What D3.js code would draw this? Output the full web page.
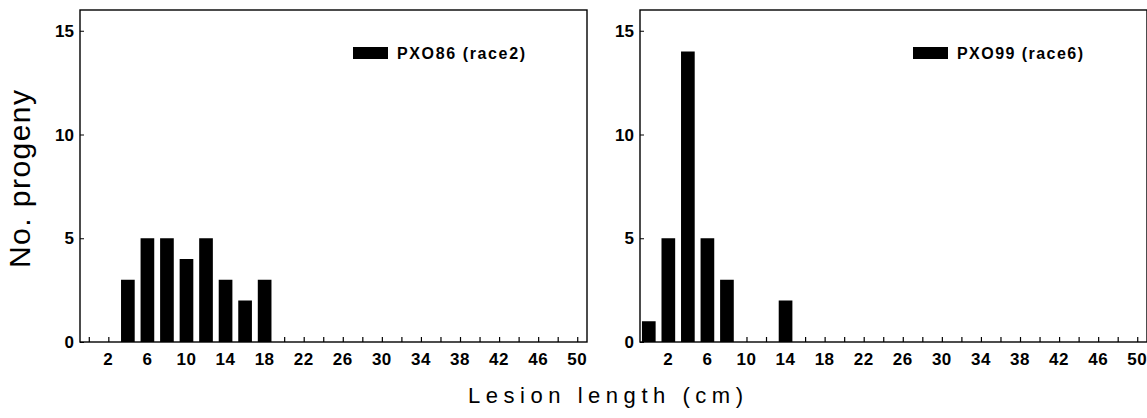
<!DOCTYPE html>
<html>
<head>
<meta charset="utf-8">
<script src="https://cdn.jsdelivr.net/npm/d3@7"></script>
<style>
    body { margin: 0; background: #fff; }
    svg { display: block; font-family: "Liberation Sans", Arial, Helvetica, sans-serif; }
    .tick-label { font-size: 17px; font-weight: bold; fill: #000; }
    .legend-label { font-size: 16px; font-weight: bold; fill: #000; }
    .axis-title { fill: #000; }
</style>
</head>
<body>
<div id="chart-area"></div>
<script>
// Lesion length bins (cm) and number of progeny per bin
const race2Lengths = [4, 6, 8, 10, 12, 14, 16, 18];
const race2Counts = [3, 5, 5, 4, 5, 3, 2, 3];
const race6Lengths = [0, 2, 4, 6, 8, 14];
const race6Counts = [1, 5, 14, 5, 3, 2];

// Axis ticks
const xTickMarks = [0, 2, 4, 6, 8, 10, 12, 14, 16, 18, 20, 22, 24, 26, 28, 30, 32, 34, 36, 38, 40, 42, 44, 46, 48, 50];
const xTickLabels = [2, 6, 10, 14, 18, 22, 26, 30, 34, 38, 42, 46, 50];
const yTickLabels = [0, 5, 10, 15];

const seriesNames = ["PXO86 (race2)", "PXO99 (race6)"];

const width = 1147;
const height = 418;
const plotTop = 10;
const plotBottom = 342;
const panelWidth = 507;
const panelLefts = [80, 640];

const svg = d3.select("#chart-area")
    .append("svg")
    .attr("width", width)
    .attr("height", height);

const y = d3.scaleLinear()
    .domain([0, 16])
    .range([plotBottom, plotTop]);

/**
 * Draw one histogram panel
 */
function drawPanel(left, lengths, counts, name, legendTextLength) {
    const x = d3.scaleLinear()
        .domain([-0.9, 51])
        .range([left, left + panelWidth]);

    const bars = lengths.map((d, i) => ({ length: d, count: counts[i] }));
    const barWidth = x(1.4) - x(0);

    const g = svg.append("g");

    // Bars
    g.selectAll(".bar")
        .data(bars)
        .enter()
        .append("rect")
        .attr("class", "bar")
        .attr("x", d => x(d.length) - barWidth / 2)
        .attr("y", d => y(d.count))
        .attr("width", barWidth)
        .attr("height", d => y(0) - y(d.count))
        .attr("fill", "#000");

    // Frame
    g.append("rect")
        .attr("x", left)
        .attr("y", plotTop)
        .attr("width", panelWidth)
        .attr("height", plotBottom - plotTop)
        .attr("fill", "none")
        .attr("stroke", "#000")
        .attr("stroke-width", 1.4);

    // X axis: small inward ticks at every bin, labels every other one
    const xAxis = g.append("g")
        .attr("transform", `translate(0,${plotBottom})`)
        .call(d3.axisTop(x).tickValues(xTickMarks).tickSize(5).tickFormat(""));
    xAxis.select(".domain").remove();
    xAxis.selectAll("line").attr("stroke", "#000").attr("stroke-width", 1.2);

    g.selectAll(".x-label")
        .data(xTickLabels)
        .enter()
        .append("text")
        .attr("class", "tick-label")
        .attr("x", d => x(d))
        .attr("y", plotBottom + 23)
        .attr("text-anchor", "middle")
        .attr("letter-spacing", "0.5px")
        .text(d => d);

    // Y axis
    const yAxis = g.append("g")
        .attr("transform", `translate(${left},0)`)
        .call(d3.axisRight(y).tickValues(yTickLabels).tickSize(4).tickFormat(""));
    yAxis.select(".domain").remove();
    yAxis.selectAll("line").attr("stroke", "#000").attr("stroke-width", 1);

    g.selectAll(".y-label")
        .data(yTickLabels)
        .enter()
        .append("text")
        .attr("class", "tick-label")
        .attr("x", left - 6)
        .attr("y", d => y(d))
        .attr("dy", "0.36em")
        .attr("text-anchor", "end")
        .text(d => d);

    // Legend
    g.append("rect")
        .attr("x", left + 273)
        .attr("y", 47)
        .attr("width", 35)
        .attr("height", 12)
        .attr("fill", "#000");

    g.append("text")
        .attr("class", "legend-label")
        .attr("x", left + 317)
        .attr("y", 59)
        .attr("textLength", legendTextLength)
        .attr("lengthAdjust", "spacing")
        .text(name);
}

drawPanel(panelLefts[0], race2Lengths, race2Counts, seriesNames[0], 128);
drawPanel(panelLefts[1], race6Lengths, race6Counts, seriesNames[1], 126);

// Axis titles
svg.append("text")
    .attr("class", "axis-title")
    .attr("x", 468)
    .attr("y", 403)
    .attr("font-size", "22px")
    .attr("textLength", 275)
    .attr("lengthAdjust", "spacing")
    .text("Lesion length (cm)");

svg.append("text")
    .attr("class", "axis-title")
    .attr("transform", "translate(30,179) rotate(-90)")
    .attr("text-anchor", "middle")
    .attr("font-size", "30px")
    .attr("textLength", 178)
    .attr("lengthAdjust", "spacing")
    .text("No. progeny");
</script>
</body>
</html>
